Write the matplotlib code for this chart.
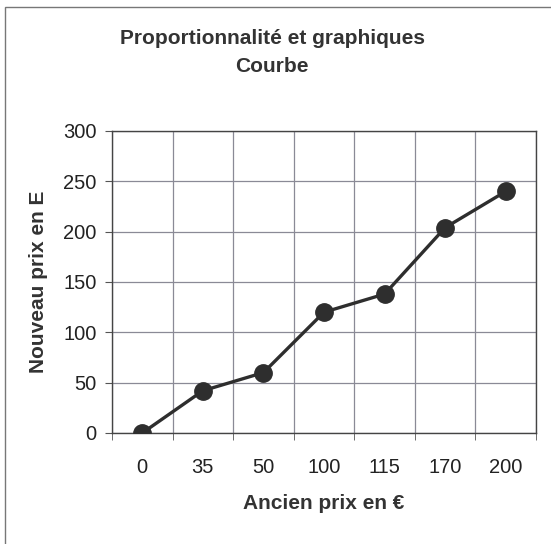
import matplotlib
matplotlib.use("Agg")
import matplotlib.pyplot as plt
from matplotlib.patches import Rectangle
import numpy as np

plt.rcParams["font.family"] = ["Liberation Sans", "DejaVu Sans"]

categories = ["0", "35", "50", "100", "115", "170", "200"]
new_price = [0, 42, 60, 120, 138, 204, 240]

fig = plt.figure(figsize=(5.51, 5.44), dpi=100)
ax = fig.add_axes([112 / 551, 1 - 433 / 544, (536 - 112) / 551, (433 - 131) / 544])

xs = np.arange(len(categories))
ax.plot(xs, new_price, color="#2e2e2e", lw=2.4, marker="o", ms=12.5, zorder=3)

ax.set_xlim(-0.5, len(categories) - 0.5)
ax.set_ylim(0, 300)
ax.set_yticks(range(0, 301, 50))
ax.set_xticks(xs)
ax.set_xticklabels(categories)
ax.set_xticks(np.arange(-0.5, len(categories), 1), minor=True)
ax.tick_params(axis="x", which="major", length=0, pad=18, labelsize=14.5, colors="#222")
ax.tick_params(axis="x", which="minor", length=5, direction="out", color="#555")
ax.tick_params(axis="y", length=5, direction="out", pad=6, labelsize=14.5, colors="#222", color="#555")
ax.grid(True, which="minor", axis="x", color="#8a8a96", lw=0.9)
ax.grid(True, which="major", axis="y", color="#8a8a96", lw=0.9)
for s in ax.spines.values():
    s.set_color("#444")
    s.set_linewidth(1.0)

ax.set_xlabel("Ancien prix en €", fontsize=15, fontweight="bold", color="#333", labelpad=12)
ax.set_ylabel("Nouveau prix en E", fontsize=15, fontweight="bold", color="#333", labelpad=11)

fig.text(272 / 551, 1 - 38 / 544, "Proportionnalité et graphiques", ha="center", va="center",
         fontsize=15, fontweight="bold", color="#333")
fig.text(272 / 551, 1 - 66 / 544, "Courbe", ha="center", va="center",
         fontsize=15, fontweight="bold", color="#333")

fig.patches.append(Rectangle((5 / 551, -0.01), 1.0, 1 - 7 / 544 + 0.01, transform=fig.transFigure,
                             fill=False, edgecolor="#777", lw=1.0))

fig.savefig("out.png", dpi=100)
